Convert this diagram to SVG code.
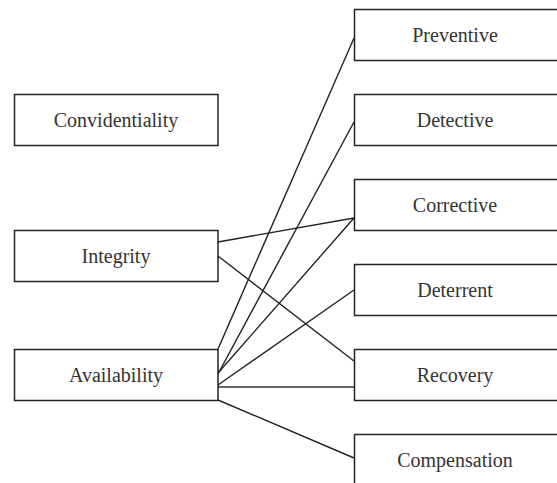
<svg xmlns="http://www.w3.org/2000/svg" width="557" height="483" viewBox="0 0 557 483">
<style>
.box{fill:#fff;stroke:#222;stroke-width:1.5}
.lbl{font-family:"Liberation Serif","Times New Roman",serif;font-size:20px;fill:#333;text-anchor:middle}
.ln{stroke:#222;stroke-width:1.4;fill:none}
</style>
<rect width="557" height="483" fill="#fff"/>
<g id="connectors">
<line class="ln" x1="218" y1="242" x2="354" y2="218"/>
<line class="ln" x1="218" y1="256" x2="354" y2="361"/>
<line class="ln" x1="218" y1="349" x2="354" y2="38"/>
<line class="ln" x1="218" y1="374" x2="354" y2="122"/>
<line class="ln" x1="218" y1="373" x2="354" y2="218"/>
<line class="ln" x1="218" y1="385" x2="354" y2="290"/>
<line class="ln" x1="218" y1="387" x2="354" y2="387" style="stroke:#666;stroke-width:2.2"/>
<line class="ln" x1="218" y1="400" x2="354" y2="458"/>
</g>
<g id="convidentiality"><rect class="box" x="14.5" y="94.5" width="203.5" height="51"/><text class="lbl" x="116" y="127">Convidentiality</text></g>
<g id="integrity"><rect class="box" x="14.5" y="230.5" width="203.5" height="51"/><text class="lbl" x="116" y="263">Integrity</text></g>
<g id="availability"><rect class="box" x="14.5" y="349.5" width="203.5" height="51"/><text class="lbl" x="116" y="382">Availability</text></g>
<g id="preventive"><rect class="box" x="354.5" y="9.5" width="210" height="51"/><text class="lbl" x="455" y="42">Preventive</text></g>
<g id="detective"><rect class="box" x="354.5" y="94.5" width="210" height="51"/><text class="lbl" x="455" y="127">Detective</text></g>
<g id="corrective"><rect class="box" x="354.5" y="179.5" width="210" height="51"/><text class="lbl" x="455" y="212">Corrective</text></g>
<g id="deterrent"><rect class="box" x="354.5" y="264.5" width="210" height="51"/><text class="lbl" x="455" y="297">Deterrent</text></g>
<g id="recovery"><rect class="box" x="354.5" y="349.5" width="210" height="51"/><text class="lbl" x="455" y="382">Recovery</text></g>
<g id="compensation"><rect class="box" x="354.5" y="434.5" width="210" height="51"/><text class="lbl" x="455" y="467">Compensation</text></g>
</svg>
